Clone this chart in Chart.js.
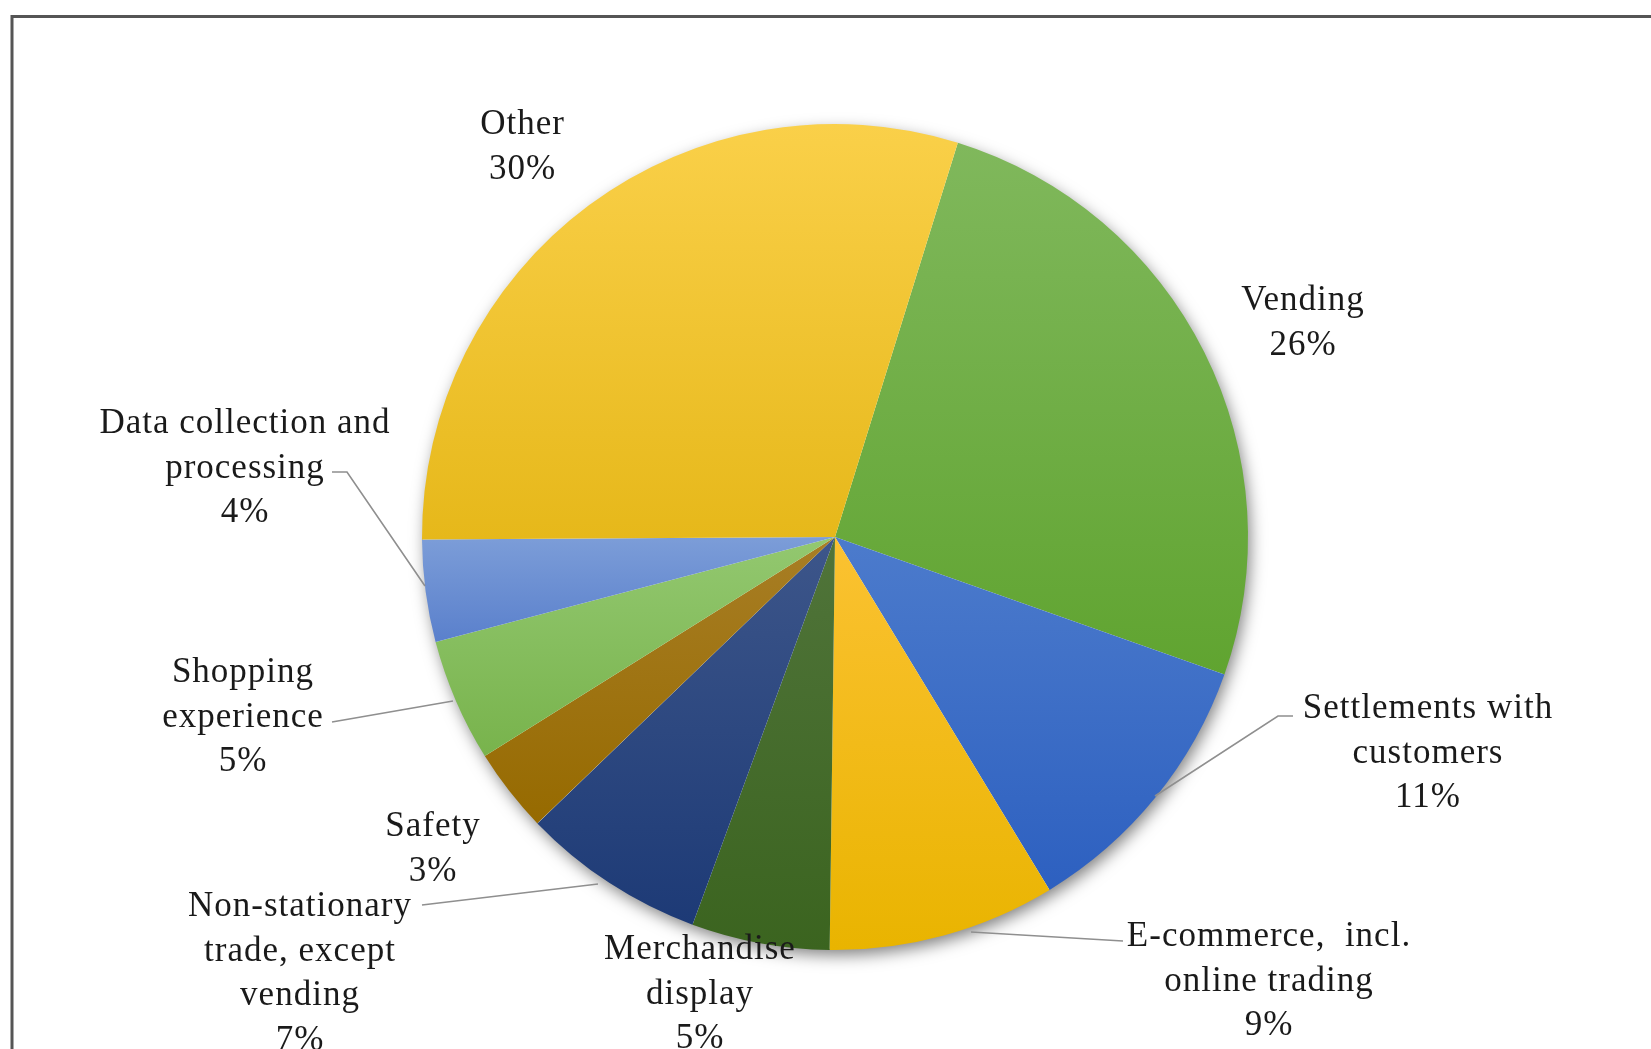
<!DOCTYPE html>
<html>
<head>
<meta charset="utf-8">
<script src="https://cdn.jsdelivr.net/npm/chart.js@4.4.1/dist/chart.umd.min.js"></script>
<style>
  html, body { margin: 0; padding: 0; background: #ffffff; }
  #wrap { position: relative; width: 1651px; height: 1049px; }
</style>
</head>
<body>
<div id="wrap"><canvas id="c"></canvas></div>
<script>
// ---------- data ----------
const categories = [
  'Vending',
  'Settlements with customers',
  'E-commerce, incl. online trading',
  'Merchandise display',
  'Non-stationary trade, except vending',
  'Safety',
  'Shopping experience',
  'Data collection and processing',
  'Other'
];
const labelLines = [
  ['Vending'],
  ['Settlements with', 'customers'],
  ['E-commerce,  incl.', 'online trading'],
  ['Merchandise', 'display'],
  ['Non-stationary', 'trade, except', 'vending'],
  ['Safety'],
  ['Shopping', 'experience'],
  ['Data collection and', 'processing'],
  ['Other']
];
const shares = [25.6, 10.9, 8.9, 5.4, 7.2, 3.3, 4.8, 4.0, 29.9];

// ---------- styles ----------
const topColors    = ['#80b85c', '#4c7bcc', '#fbc232', '#50743a', '#3d568a', '#a87e25', '#93c870', '#7c9dd8', '#fad049'];
const bottomColors = ['#60a430', '#2d60c0', '#e9b400', '#3b641f', '#1d3a76', '#966a00', '#78b34c', '#5a80cc', '#e6b81a'];
const START_ROTATION = 17.3; // degrees clockwise from 12 o'clock

// label layout: offset of first baseline from pie centre (px)
const labelOffsets = [
  [468, -227], [593, 181], [434, 409], [-135, 422], [-535, 379],
  [-402, 299], [-592, 145], [-590, -104], [-312.5, -403]
];
// leader lines: polyline points relative to pie centre (px)
const leaders = [
  null,
  [[458, 179], [443, 179], [320, 259]],
  [[288, 404], [136, 395]],
  null,
  [[-413, 368], [-237, 347]],
  null,
  [[-503, 185], [-382, 164]],
  [[-503, -65], [-488, -65], [-410, 49]],
  null
];
const FONT = '35px "Liberation Serif", "Times New Roman", serif';
const LINE_H = 44.5;

function sliceGradient(ctx) {
  const i = ctx.dataIndex;
  const chart = ctx.chart;
  const area = chart.chartArea;
  if (!area) return bottomColors[i];
  const data = ctx.dataset.data;
  const total = data.reduce((a, b) => a + b, 0);
  const cx = (area.left + area.right) / 2, cy = (area.top + area.bottom) / 2;
  const r = Math.min(area.right - area.left, area.bottom - area.top) / 2;
  let start = (START_ROTATION - 90) * Math.PI / 180;
  for (let k = 0; k < i; k++) start += data[k] / total * Math.PI * 2;
  const end = start + data[i] / total * Math.PI * 2;
  let minY = cy, maxY = cy;
  [start, end].forEach(a => {
    const y = cy + r * Math.sin(a);
    minY = Math.min(minY, y); maxY = Math.max(maxY, y);
  });
  for (let k = -2; k <= 3; k++) {
    const up = -Math.PI / 2 + k * 2 * Math.PI;
    const dn = Math.PI / 2 + k * 2 * Math.PI;
    if (up >= start && up <= end) minY = cy - r;
    if (dn >= start && dn <= end) maxY = cy + r;
  }
  if (maxY - minY < 1) maxY = minY + 1;
  const g = chart.ctx.createLinearGradient(0, minY, 0, maxY);
  g.addColorStop(0, topColors[i]);
  g.addColorStop(1, bottomColors[i]);
  return g;
}

const framePlugin = {
  id: 'frame',
  beforeDraw(chart) {
    const c = chart.ctx;
    c.save();
    c.strokeStyle = '#555555';
    c.lineWidth = 3;
    c.strokeRect(12, 16.5, chart.width + 20, chart.height + 20);
    c.restore();
  }
};

const shadowPlugin = {
  id: 'pieShadow',
  beforeDatasetsDraw(chart) {
    const arc = chart.getDatasetMeta(0).data[0];
    if (!arc) return;
    const c = chart.ctx;
    c.save();
    c.shadowColor = 'rgba(0,0,0,0.5)';
    c.shadowBlur = 16;
    c.shadowOffsetX = 3;
    c.shadowOffsetY = 6;
    c.fillStyle = '#ffffff';
    c.beginPath();
    c.arc(arc.x, arc.y, arc.outerRadius - 1, 0, Math.PI * 2);
    c.fill();
    c.restore();
  }
};

const labelPlugin = {
  id: 'sliceLabels',
  afterDatasetsDraw(chart) {
    const meta = chart.getDatasetMeta(0);
    const data = chart.data.datasets[0].data;
    const total = data.reduce((a, b) => a + b, 0);
    const c = chart.ctx;
    c.save();
    // leader lines
    c.strokeStyle = '#8f8f8f';
    c.lineWidth = 1.6;
    meta.data.forEach((arc, i) => {
      const pts = leaders[i];
      if (!pts) return;
      c.beginPath();
      pts.forEach((p, k) => {
        const x = arc.x + p[0], y = arc.y + p[1];
        if (k === 0) c.moveTo(x, y); else c.lineTo(x, y);
      });
      c.stroke();
    });
    // texts
    c.font = FONT;
    if ('letterSpacing' in c) c.letterSpacing = '1px';
    c.fillStyle = '#1a1a1a';
    c.textAlign = 'center';
    c.textBaseline = 'alphabetic';
    meta.data.forEach((arc, i) => {
      const lines = labelLines[i].concat([Math.round(data[i] / total * 100) + '%']);
      const x = arc.x + labelOffsets[i][0];
      const y0 = arc.y + labelOffsets[i][1];
      lines.forEach((t, k) => c.fillText(t, x, y0 + k * LINE_H));
    });
    c.restore();
  }
};

new Chart(document.getElementById('c'), {
  type: 'pie',
  data: {
    labels: categories,
    datasets: [{
      data: shares,
      backgroundColor: sliceGradient,
      borderWidth: 0,
      hoverBorderWidth: 0,
      hoverOffset: 0,
      offset: 0
    }]
  },
  options: {
    responsive: true,
    maintainAspectRatio: false,
    animation: false,
    events: [],
    rotation: START_ROTATION,
    layout: { padding: { top: 124, bottom: 99, left: 422, right: 403 } },
    plugins: {
      legend: { display: false },
      tooltip: { enabled: false },
      title: { display: false }
    }
  },
  plugins: [framePlugin, shadowPlugin, labelPlugin]
});
</script>
</body>
</html>
